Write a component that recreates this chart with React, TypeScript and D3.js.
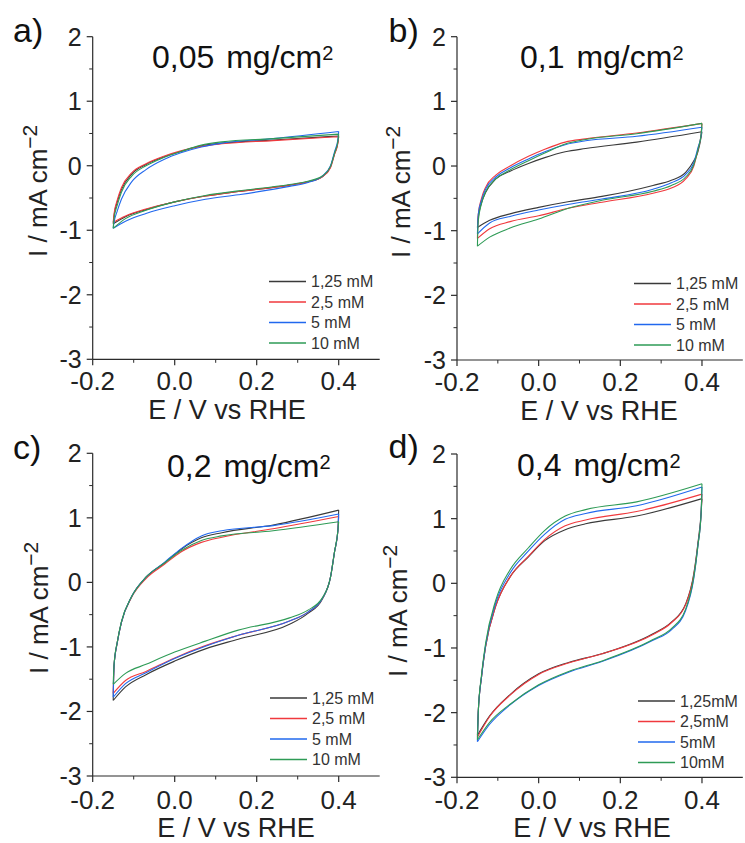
import React from 'react';
import * as d3 from 'd3';

// ---------- DATA ----------
const LEGEND_ABC = ['1,25 mM', '2,5 mM', '5 mM', '10 mM'];
const LEGEND_D = ['1,25mM', '2,5mM', '5mM', '10mM'];
const COLORS = ['#3a3a3a', '#f0393d', '#2168ee', '#2e9b56'];

const X_TICKS = [-0.2, 0.0, 0.2, 0.4];
const X_MINOR = [-0.1, 0.1, 0.3];
const Y_TICKS = [2, 1, 0, -1, -2, -3];
const Y_MINOR = [1.5, 0.5, -0.5, -1.5, -2.5];

// anodic (forward) sweep potentials, V vs RHE
const E_UP = [-0.15, -0.148, -0.14, -0.13, -0.105, -0.07, -0.025, 0.015, 0.065, 0.115, 0.24, 0.4];
// cathodic (reverse) sweep potentials
const E_DOWN = [0.398, 0.39, 0.38, 0.36, 0.325, 0.28, 0.155, 0.075, 0.0, -0.07, -0.12, -0.15];

// rows: 1,25 / 2,5 / 5 / 10 mM
const A_UP = [
  [-0.90, -0.78, -0.56, -0.37, -0.13, 0.02, 0.14, 0.22, 0.31, 0.35, 0.40, 0.46],
  [-0.88, -0.75, -0.53, -0.34, -0.11, 0.03, 0.15, 0.23, 0.30, 0.34, 0.39, 0.45],
  [-0.97, -0.88, -0.70, -0.52, -0.25, -0.06, 0.10, 0.20, 0.29, 0.35, 0.42, 0.53],
  [-0.97, -0.82, -0.61, -0.41, -0.16, 0.00, 0.13, 0.22, 0.32, 0.37, 0.42, 0.49],
];
const A_DOWN = [
  [0.36, 0.19, -0.02, -0.17, -0.25, -0.30, -0.40, -0.47, -0.56, -0.68, -0.79, -0.90],
  [0.35, 0.18, -0.03, -0.17, -0.25, -0.30, -0.40, -0.47, -0.56, -0.67, -0.78, -0.88],
  [0.40, 0.22, 0.00, -0.16, -0.26, -0.32, -0.45, -0.52, -0.62, -0.74, -0.86, -0.97],
  [0.38, 0.20, -0.01, -0.16, -0.24, -0.29, -0.39, -0.46, -0.56, -0.69, -0.82, -0.97],
];

const B_UP = [
  [-0.95, -0.80, -0.57, -0.41, -0.20, -0.08, 0.04, 0.13, 0.22, 0.27, 0.37, 0.53],
  [-1.12, -0.75, -0.50, -0.33, -0.14, 0.00, 0.15, 0.26, 0.37, 0.42, 0.51, 0.66],
  [-1.05, -0.75, -0.53, -0.36, -0.17, -0.03, 0.11, 0.22, 0.33, 0.39, 0.46, 0.60],
  [-1.24, -0.85, -0.58, -0.40, -0.20, -0.06, 0.08, 0.20, 0.34, 0.41, 0.50, 0.66],
];
const B_DOWN = [
  [0.45, 0.22, 0.08, -0.10, -0.22, -0.30, -0.47, -0.55, -0.64, -0.74, -0.84, -0.95],
  [0.50, 0.25, 0.00, -0.20, -0.34, -0.42, -0.56, -0.65, -0.77, -0.86, -0.97, -1.12],
  [0.48, 0.28, 0.05, -0.13, -0.26, -0.36, -0.51, -0.59, -0.68, -0.78, -0.88, -1.05],
  [0.50, 0.25, 0.02, -0.17, -0.30, -0.39, -0.53, -0.65, -0.82, -0.96, -1.10, -1.24],
];

const C_UP = [
  [-1.83, -1.30, -0.93, -0.62, -0.22, 0.08, 0.30, 0.51, 0.69, 0.77, 0.89, 1.12],
  [-1.72, -1.30, -0.93, -0.62, -0.23, 0.06, 0.28, 0.47, 0.62, 0.70, 0.83, 1.02],
  [-1.78, -1.30, -0.93, -0.62, -0.22, 0.08, 0.31, 0.52, 0.72, 0.80, 0.88, 1.06],
  [-1.58, -1.28, -0.92, -0.61, -0.22, 0.08, 0.30, 0.49, 0.65, 0.72, 0.80, 0.94],
];
const C_DOWN = [
  [0.80, 0.48, 0.08, -0.26, -0.48, -0.65, -0.88, -1.03, -1.22, -1.43, -1.62, -1.83],
  [0.80, 0.48, 0.08, -0.25, -0.46, -0.60, -0.82, -0.98, -1.17, -1.38, -1.52, -1.72],
  [0.80, 0.48, 0.08, -0.25, -0.46, -0.60, -0.82, -0.99, -1.18, -1.40, -1.57, -1.78],
  [0.80, 0.48, 0.08, -0.24, -0.43, -0.55, -0.74, -0.91, -1.08, -1.27, -1.41, -1.58],
];

const D_UP = [
  [-2.35, -2.00, -1.45, -0.98, -0.35, 0.10, 0.41, 0.66, 0.83, 0.92, 1.04, 1.31],
  [-2.38, -2.00, -1.45, -0.98, -0.35, 0.10, 0.42, 0.68, 0.89, 0.98, 1.11, 1.38],
  [-2.45, -2.00, -1.45, -0.96, -0.30, 0.16, 0.50, 0.76, 0.99, 1.08, 1.20, 1.49],
  [-2.42, -2.00, -1.42, -0.93, -0.26, 0.21, 0.55, 0.82, 1.04, 1.14, 1.26, 1.54],
];
const D_DOWN = [
  [1.10, 0.62, 0.15, -0.32, -0.60, -0.78, -1.09, -1.22, -1.40, -1.72, -2.05, -2.35],
  [1.10, 0.60, 0.13, -0.33, -0.61, -0.79, -1.09, -1.23, -1.41, -1.73, -2.06, -2.38],
  [1.10, 0.58, 0.08, -0.42, -0.72, -0.88, -1.21, -1.37, -1.58, -1.88, -2.18, -2.45],
  [1.10, 0.58, 0.10, -0.40, -0.70, -0.87, -1.20, -1.36, -1.57, -1.87, -2.15, -2.42],
];

const TITLES = ['0,05', '0,1', '0,2', '0,4'];
const PANEL_TAGS = ['a)', 'b)', 'c)', 'd)'];

// ---------- LAYOUT ----------
const FONT = 'Liberation Sans, Arial, Helvetica, sans-serif';
const PANELS = [
  { tag: 0, up: A_UP, down: A_DOWN, legend: LEGEND_ABC, left: 92.7, top: 36.7, bottom: 359.3, pxPerV: 410,
    tagPos: [13, 42], titlePos: [152, 68], legPos: [269, 281.5], xlabX: 227, xlabY: 419, tickLabY: 390, ylabPos: [47, 257] },
  { tag: 1, up: B_UP, down: B_DOWN, legend: LEGEND_ABC, left: 457, top: 36.7, bottom: 360, pxPerV: 408.3,
    tagPos: [388.5, 42], titlePos: [520, 68], legPos: [634, 283.5], xlabX: 599, xlabY: 420, tickLabY: 390.5, ylabPos: [410, 258] },
  { tag: 2, up: C_UP, down: C_DOWN, legend: LEGEND_ABC, left: 92.7, top: 453.3, bottom: 776, pxPerV: 410,
    tagPos: [13, 459], titlePos: [167, 477], legPos: [270, 698], xlabX: 236, xlabY: 836.5, tickLabY: 808.5, ylabPos: [48, 674] },
  { tag: 3, up: D_UP, down: D_DOWN, legend: LEGEND_D, left: 457, top: 454, bottom: 777.3, pxPerV: 408.3,
    tagPos: [388.5, 458], titlePos: [517, 476], legPos: [638, 701], xlabX: 592, xlabY: 836.5, tickLabY: 809, ylabPos: [407, 677] },
];

function Panel({ p }: { p: any }) {
  const x = d3.scaleLinear().domain([-0.2, 0.5]).range([p.left, p.left + 0.7 * p.pxPerV]);
  const y = d3.scaleLinear().domain([-3, 2]).range([p.bottom, p.top]);
  const line = d3.line<[number, number]>().x(d => x(d[0])).y(d => y(d[1])).curve(d3.curveMonotoneX);
  const axisColor = '#2b2b2b';

  const paths = p.up.map((upVals: number[], si: number) => {
    const upper: [number, number][] = E_UP.map((e, i) => [e, upVals[i]]);
    const lower: [number, number][] = E_DOWN.map((e, i) => [e, p.down[si][i]] as [number, number]).reverse();
    lower.push([E_UP[E_UP.length - 1], upVals[upVals.length - 1]]);
    return (line(upper) || '') + (line(lower) || '');
  });

  const x1 = x.range()[1];
  return (
    <g>
      {paths.map((d: string, i: number) => (
        <path key={i} d={d} fill="none" stroke={COLORS[i]} strokeWidth={1.1} strokeLinejoin="round" />
      ))}
      {/* axes */}
      <line x1={p.left} x2={p.left} y1={p.top} y2={p.bottom} stroke={axisColor} strokeWidth={1.2} />
      <line x1={p.left} x2={x1} y1={p.bottom} y2={p.bottom} stroke={axisColor} strokeWidth={1.2} />
      {Y_TICKS.map(v => (
        <g key={'yt' + v}>
          <line x1={p.left - 6} x2={p.left} y1={y(v)} y2={y(v)} stroke={axisColor} strokeWidth={1.2} />
          <text x={p.left - 11} y={y(v)} dy="0.36em" textAnchor="end" fontSize={25} fill="#222">{String(v)}</text>
        </g>
      ))}
      {Y_MINOR.map(v => (
        <line key={'ym' + v} x1={p.left - 3.5} x2={p.left} y1={y(v)} y2={y(v)} stroke={axisColor} strokeWidth={1} />
      ))}
      {X_TICKS.map(v => (
        <g key={'xt' + v}>
          <line x1={x(v)} x2={x(v)} y1={p.bottom} y2={p.bottom + 6} stroke={axisColor} strokeWidth={1.2} />
          <text x={x(v)} y={p.tickLabY} textAnchor="middle" fontSize={26} fill="#222">{d3.format('.1f')(v).replace('−', '-')}</text>
        </g>
      ))}
      {X_MINOR.map(v => (
        <line key={'xm' + v} x1={x(v)} x2={x(v)} y1={p.bottom} y2={p.bottom + 3.5} stroke={axisColor} strokeWidth={1} />
      ))}
      {/* axis titles */}
      <text x={p.xlabX} y={p.xlabY} textAnchor="middle" fontSize={27} fill="#222">E / V vs RHE</text>
      <text transform={`translate(${p.ylabPos[0]},${p.ylabPos[1]}) rotate(-90)`} fontSize={26} fill="#222">
        I / mA cm<tspan fontSize={21} dy={-10}>−2</tspan>
      </text>
      {/* panel tag and title */}
      <text x={p.tagPos[0]} y={p.tagPos[1]} fontSize={34} fill="#111">{PANEL_TAGS[p.tag]}</text>
      <text x={p.titlePos[0]} y={p.titlePos[1]} fontSize={32} fill="#111">
        {TITLES[p.tag]}<tspan dx={3}> mg/cm</tspan><tspan fontSize={20} dy={-8}>2</tspan>
      </text>
      {/* legend */}
      {p.legend.map((lab: string, i: number) => {
        const ly = p.legPos[1] + i * 20.5;
        return (
          <g key={'lg' + i}>
            <line x1={p.legPos[0]} x2={p.legPos[0] + 37} y1={ly} y2={ly} stroke={COLORS[i]} strokeWidth={1.3} />
            <text x={p.legPos[0] + 42} y={ly} dy="0.36em" fontSize={16} fill="#333">{lab}</text>
          </g>
        );
      })}
    </g>
  );
}

export default function App() {
  return (
    <svg width={745} height={843} viewBox="0 0 745 843"
      style={{ position: 'absolute', left: 0, top: 0, background: '#fff', fontFamily: FONT }}>
      <rect x={0} y={0} width={745} height={843} fill="#fff" />
      {PANELS.map((p, i) => <Panel key={i} p={p} />)}
    </svg>
  );
}
